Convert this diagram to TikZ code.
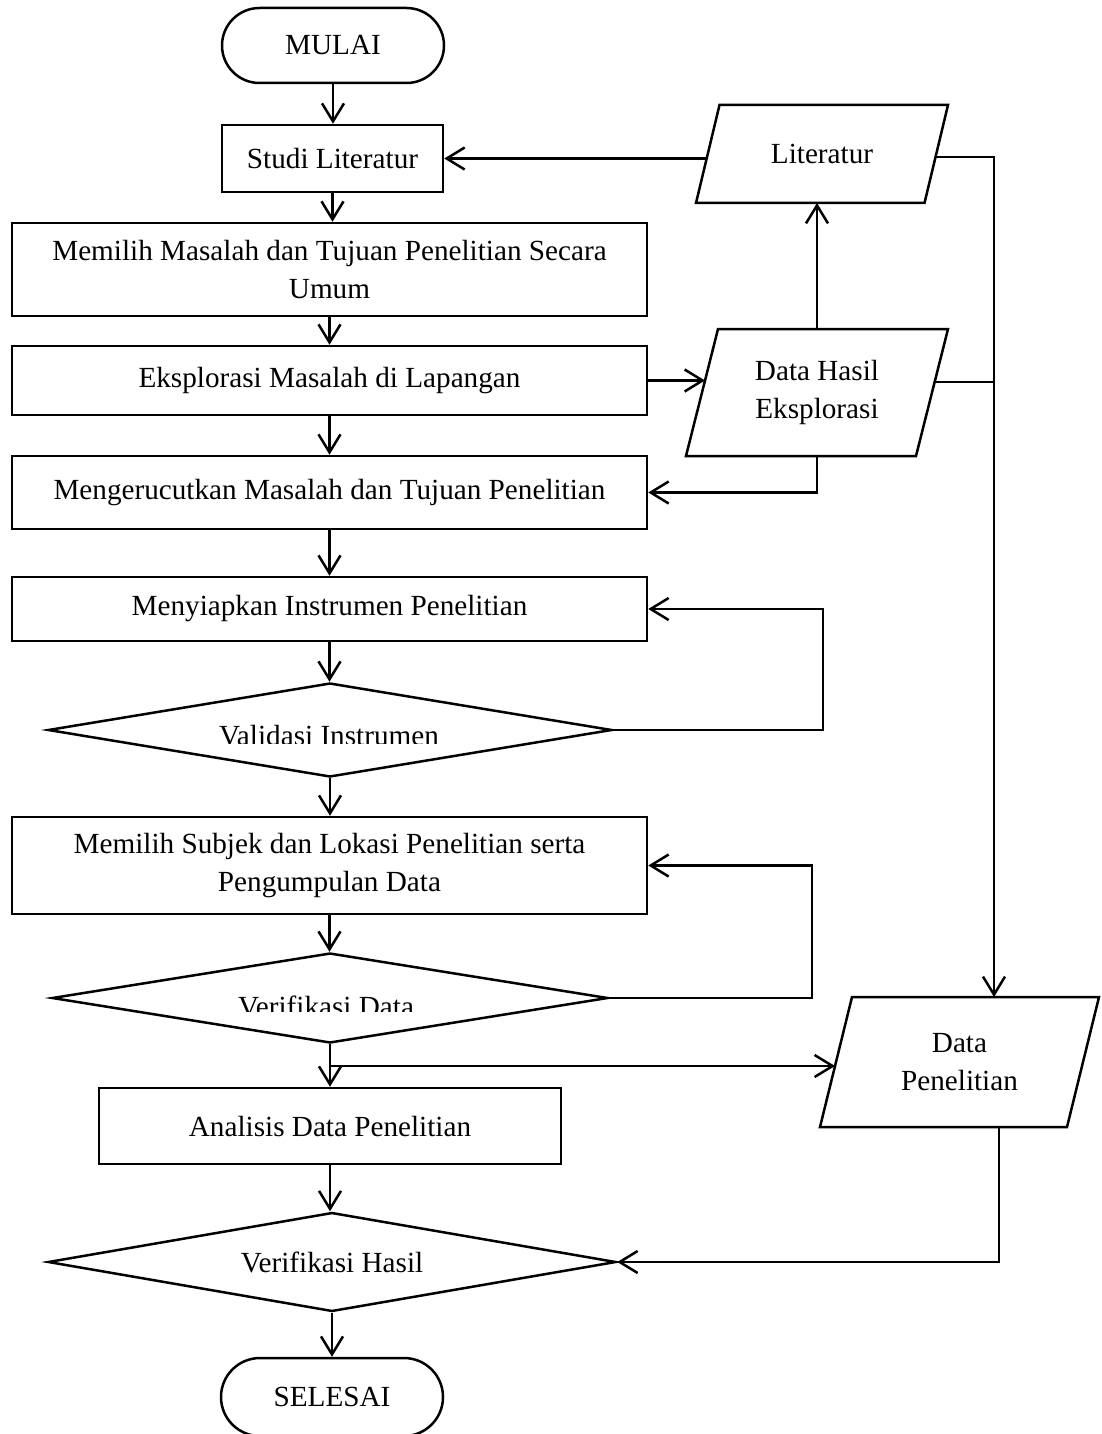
\documentclass[tikz,border=0pt]{standalone}
\usepackage{fontspec}
\setmainfont{Liberation Serif}
\usetikzlibrary{arrows.meta,shapes.geometric,shapes.misc,calc}
\begin{document}
\begin{tikzpicture}[x=1pt,y=-1pt,
  every node/.style={font=\fontsize{29.2pt}{38.5pt}\selectfont, inner sep=0pt, align=center},
  box/.style={draw, rectangle, line width=2.5pt},
  term/.style={draw, rounded rectangle, line width=2.5pt, minimum width=222pt, minimum height=75pt},
  dec/.style={draw, diamond, aspect=6, line width=2.5pt},
  ioline/.style={draw, line width=2.5pt, line join=miter},
  arr/.style={line width=2.5pt, -{Straight Barb[length=18pt,width=22pt]}},
  conn/.style={line width=2.5pt},
]
\useasboundingbox (0,0) rectangle (1101,1434);
\fill[white] (0,0) rectangle (1101,1434);
\clip (0,0) rectangle (1101,1434);

% main column
\node[term] (mulai) at (333,45.5) {MULAI};
\node[box, minimum width=221pt, minimum height=67pt] (studi) at (332.5,158.5) {Studi Literatur};
\node[box, minimum width=635pt, minimum height=93pt] (memilih) at (329.5,269.5) {Memilih Masalah dan Tujuan Penelitian Secara\\Umum};
\node[box, minimum width=635pt, minimum height=69pt] (eks) at (329.5,380.5) {Eksplorasi Masalah di Lapangan};
\node[box, minimum width=635pt, minimum height=73pt] (meng) at (329.5,492.5) {Mengerucutkan Masalah dan Tujuan Penelitian};
\node[box, minimum width=635pt, minimum height=64pt] (siap) at (329.5,609) {Menyiapkan Instrumen Penelitian};
\node[dec, minimum width=564pt, minimum height=94pt] (val) at (330,730) {};
\node[box, minimum width=635pt, minimum height=97pt] (subjek) at (329.5,865.5) {Memilih Subjek dan Lokasi Penelitian serta\\Pengumpulan Data};
\node[dec, minimum width=556pt, minimum height=90pt] (vdata) at (330,998) {};
\node[box, minimum width=462pt, minimum height=76pt] (analisis) at (330,1126) {Analisis Data Penelitian};
\node[dec, minimum width=568pt, minimum height=99pt] (vhasil) at (332,1262) {Verifikasi Hasil};
\node[term, minimum height=78pt] (selesai) at (332,1397) {SELESAI};

% clipped decision texts
\begin{scope}
  \clip (150,690) rectangle (510,743);
  \node[anchor=base] (valtxt) at (329,745) {Validasi Instrumen};
\end{scope}
\begin{scope}
  \clip (150,960) rectangle (510,1011);
  \node[anchor=base] (vdtxt) at (326,1016.5) {Verifikasi Data};
\end{scope}

% data (parallelograms): text nodes + outlines
\node (lit) at (822,154) {Literatur};
\node (dh) at (817,392.5) {Data Hasil\\Eksplorasi};
\node (dp) at (959.5,1062) {Data\\Penelitian};
\draw[ioline, shift={(lit.center)}] (-126,49) -- (-102.5,-49) -- (126,-49) -- (102.5,49) -- cycle;
\draw[ioline, shift={(dh.center)}] (-131,63.5) -- (-99,-63.5) -- (131,-63.5) -- (99,63.5) -- cycle;
\draw[ioline, shift={(dp.center)}] (-139.5,65) -- (-107.5,-65) -- (139.5,-65) -- (107.5,65) -- cycle;

% edge points of the parallelograms
\coordinate (litL) at ($(lit.center)+(-115.3,4.5)$);
\coordinate (litR) at ($(lit.center)+(113.5,3)$);
\coordinate (litB) at ($(lit.center)+(0,49)$);
\coordinate (dhL) at ($(dh.center)+(-112,-12)$);
\coordinate (dhR) at ($(dh.center)+(117.6,-10.5)$);
\coordinate (dhT) at ($(dh.center)+(0,-63.5)$);
\coordinate (dhB) at ($(dh.center)+(0,63.5)$);
\coordinate (dpT) at ($(dp.center)+(34.5,-65)$);
\coordinate (dpB) at ($(dp.center)+(39.5,65)$);
\coordinate (dpL) at ($(dp.center)+(-124.5,4)$);

% main flow
\draw[arr] (mulai.south) -- (mulai.south |- studi.north);
\draw[arr] (studi.south) -- (studi.south |- memilih.north);
\draw[arr] (memilih.south) -- (eks.north);
\draw[arr] (eks.south) -- (meng.north);
\draw[arr] (meng.south) -- (siap.north);
\draw[arr] (siap.south) -- (siap.south |- val.north);
\draw[arr] (val.south) -- (val.south |- subjek.north);
\draw[arr] (subjek.south) -- (subjek.south |- vdata.north);
\draw[arr] (vdata.south) -- (vdata.south |- analisis.north);
\draw[arr] (analisis.south) -- (analisis.south |- vhasil.north);
\draw[arr] (vhasil.south) -- (vhasil.south |- selesai.north);

% right side
\coordinate (loopA) at (823,700);
\coordinate (loopB) at (812,950);
\coordinate (br) at (vdata.south |- 0,1066);

\draw[arr] (litL) -- (studi.east);
\draw[arr] (litR) -| (dpT);
\draw[conn] (dhR) -- (dhR -| dpT);
\draw[arr] (eks.east) -- (dhL);
\draw[arr] (dhT) -- (dhT |- litB);
\draw[arr] (dhB) |- (meng.east);
\draw[arr] (val.east) -| (loopA) |- (siap.east);
\draw[arr] (vdata.east) -| (loopB) |- (subjek.east);
\draw[arr] (br) -- (dpL);
\draw[arr] (dpB) |- (vhasil.east);
\end{tikzpicture}
\end{document}
